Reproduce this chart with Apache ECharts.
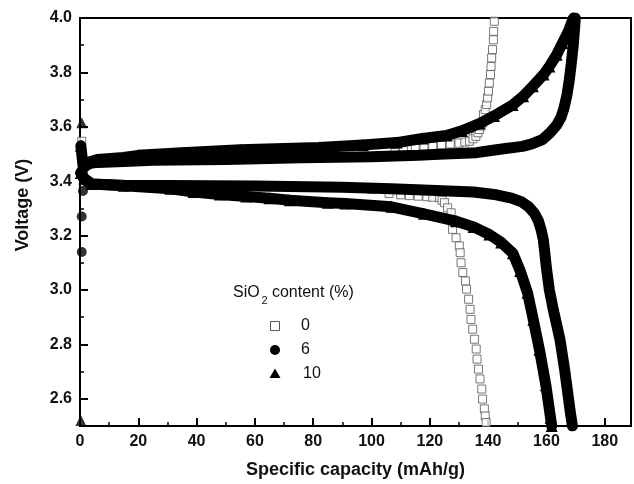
<!DOCTYPE html>
<html>
<head>
<meta charset="utf-8">
<script src="https://cdn.jsdelivr.net/npm/echarts@6/dist/echarts.min.js"></script>
<style>
html, body { margin: 0; padding: 0; background: #fff; }
#chart { width: 634px; height: 484px; }
</style>
</head>
<body>
<div id="chart"></div>
<script>
var FONT = 'Liberation Sans, Arial, Helvetica, sans-serif';

// specific capacity (mAh/g), voltage (V)
// SiO2 0 %  (open squares)
var charge0 = [[1, 3.46], [5, 3.472], [20, 3.478], [40, 3.48], [60, 3.482], [80, 3.486], [100, 3.49],
	[108, 3.505], [111, 3.512], [115, 3.52], [118, 3.524], [121, 3.528], [124, 3.533], [127, 3.537],
	[130, 3.54], [132, 3.544], [133.6, 3.547], [134.8, 3.556], [135.8, 3.565], [136.5, 3.578], [137, 3.59],
	[137.6, 3.603], [138.1, 3.615], [138.4, 3.645], [139, 3.663], [139.5, 3.682], [139.8, 3.706],
	[140.1, 3.731], [140.4, 3.761], [140.8, 3.792], [141, 3.822], [141.2, 3.853], [141.5, 3.884],
	[141.8, 3.92], [141.9, 3.951], [142.1, 3.988]];
var discharge0 = [[1, 3.42], [3, 3.39], [20, 3.385], [50, 3.382], [80, 3.379], [100, 3.37], [106, 3.355],
	[110, 3.35], [113, 3.347], [116, 3.345], [119, 3.343], [121, 3.341], [123.3, 3.339], [124.2, 3.33],
	[125, 3.321], [126.1, 3.302], [127.3, 3.284], [127.5, 3.255], [127.8, 3.223], [129, 3.192],
	[130.1, 3.162], [130.4, 3.137], [130.7, 3.1], [131.3, 3.064], [132.2, 3.033], [132.6, 3.003],
	[133.3, 2.966], [133.8, 2.929], [134.1, 2.892], [134.7, 2.856], [135.3, 2.819], [135.9, 2.783],
	[136.2, 2.746], [136.7, 2.709], [137.2, 2.673], [137.8, 2.636], [138.1, 2.599], [138.7, 2.563],
	[139, 2.537], [139.3, 2.513]];

// SiO2 6 %  (filled circles)
var charge6 = [[0.3, 3.43], [1.5, 3.455], [4, 3.468], [15, 3.472], [25, 3.477], [50, 3.48], [76, 3.486],
	[100, 3.49], [116, 3.495], [125, 3.5], [136, 3.505], [140.4, 3.512], [146, 3.52], [151.8, 3.528],
	[155, 3.537], [158.6, 3.553], [161.2, 3.578], [163.5, 3.606], [165, 3.635], [166, 3.668],
	[167, 3.715], [167.8, 3.77], [168.4, 3.822], [169.2, 3.9], [169.7, 3.97], [169.9, 4.0]];
var discharge6 = [[0.3, 3.43], [1.5, 3.405], [4, 3.39], [15, 3.385], [30, 3.384], [60, 3.382], [90, 3.378],
	[106.8, 3.372], [120, 3.367], [135, 3.36], [142.8, 3.35], [148, 3.338], [151.5, 3.324], [154, 3.305],
	[155.8, 3.283], [157.2, 3.255], [158.2, 3.22], [158.9, 3.186], [159.4, 3.14], [160, 3.08],
	[161, 3.0], [162.2, 2.935], [164.6, 2.82], [166.2, 2.71], [168.2, 2.55], [168.9, 2.5]];

// SiO2 10 %  (filled triangles)
var charge10 = [[0.3, 3.53], [1, 3.46], [3, 3.47], [6, 3.48], [15, 3.487], [20, 3.495], [35, 3.505],
	[55, 3.516], [82, 3.524], [97, 3.533], [108.6, 3.542], [117.5, 3.557], [125.7, 3.568], [131, 3.585],
	[137, 3.612], [142, 3.64], [148.4, 3.68], [152, 3.712], [155.3, 3.749], [159, 3.792], [161, 3.822],
	[163.5, 3.865], [165.5, 3.908], [167.5, 3.95], [169, 3.994], [169.3, 4.0]];
var discharge10 = [[0.3, 3.43], [1.5, 3.41], [4, 3.39], [15, 3.383], [31, 3.372], [39, 3.36], [48, 3.351],
	[57, 3.344], [65, 3.337], [72, 3.33], [85, 3.321], [91, 3.318], [106.8, 3.306], [118, 3.28],
	[129, 3.253], [135, 3.232], [140.4, 3.204], [144.5, 3.175], [148.5, 3.135], [151, 3.07], [153.5, 2.99],
	[155.5, 2.89], [157.6, 2.78], [159.8, 2.65], [161.4, 2.53], [161.8, 2.5]];

// first points of the runs, left on their own at zero capacity
var start0 = [[0.6, 3.547]];
var start6 = [[0.6, 3.27], [0.6, 3.14], [1, 3.364]];
var start10 = [[0.6, 3.615], [0.3, 2.52]];

var xMin = 0, xMax = 189;
var yMin = 2.5, yMax = 4.0;

var mychart = echarts.init(document.getElementById('chart'), null, {renderer: 'canvas'});

function squares(data) {
	return {
		type: 'scatter',
		data: data,
		symbol: 'rect',
		symbolSize: 8,
		itemStyle: {color: '#fff', borderColor: '#555', borderWidth: 1},
		z: 2,
		silent: true
	};
}

function thick(data, symbol, size) {
	return {
		type: 'line',
		data: data,
		showSymbol: !!symbol,
		symbol: symbol || 'none',
		symbolSize: size || 0,
		itemStyle: {color: '#000'},
		lineStyle: {color: '#000', width: 11, cap: 'round', join: 'round'},
		z: 3,
		silent: true
	};
}

function dots(data, symbol, size) {
	return {
		type: 'scatter',
		data: data,
		symbol: symbol,
		symbolSize: size,
		itemStyle: {color: '#000'},
		z: 3,
		silent: true
	};
}

var option = {
	animation: false,
	backgroundColor: '#fff',
	grid: {
		left: 80, right: 2, top: 18, bottom: 58,
		show: true, borderColor: '#000', borderWidth: 2, backgroundColor: 'transparent'
	},
	xAxis: [{
		type: 'value', min: xMin, max: xMax, interval: 10,
		name: 'Specific capacity (mAh/g)', nameLocation: 'middle', nameGap: 35,
		nameTextStyle: {fontFamily: FONT, fontWeight: 'bold', fontSize: 18, color: '#111'},
		axisLine: {lineStyle: {color: '#000', width: 2}},
		axisTick: {inside: true, length: 4, lineStyle: {color: '#000', width: 1.5}},
		axisLabel: {
			margin: 8, fontFamily: FONT, fontWeight: 'bold', fontSize: 16, color: '#111',
			formatter: function(v) { return (v % 20 === 0) ? String(v) : ''; }
		},
		splitLine: {show: false}
	}, {
		type: 'value', min: xMin, max: xMax, interval: 20, position: 'bottom',
		axisLine: {show: false},
		axisTick: {inside: true, length: 8, lineStyle: {color: '#000', width: 2}},
		axisLabel: {show: false},
		splitLine: {show: false}
	}],
	yAxis: [{
		type: 'value', min: yMin, max: yMax, interval: 0.1,
		name: 'Voltage (V)', nameLocation: 'middle', nameGap: 48,
		nameTextStyle: {fontFamily: FONT, fontWeight: 'bold', fontSize: 18, color: '#111', padding: [0, 0, 0, 34]},
		axisLine: {lineStyle: {color: '#000', width: 2}},
		axisTick: {inside: true, length: 4, lineStyle: {color: '#000', width: 1.5}},
		axisLabel: {
			margin: 8, fontFamily: FONT, fontWeight: 'bold', fontSize: 16, color: '#111',
			formatter: function(v) {
				var t = Math.round(v * 10);
				return (t % 2 === 0) ? (t / 10).toFixed(1) : '';
			}
		},
		splitLine: {show: false}
	}, {
		// major ticks every 0.2 V (counted from 2.6)
		type: 'value', min: yMin, max: yMax, splitNumber: 7, position: 'left',
		axisLine: {show: false},
		axisTick: {inside: true, length: 8, lineStyle: {color: '#000', width: 2}},
		axisLabel: {show: false},
		splitLine: {show: false}
	}],
	series: [
		squares(charge0),
		squares(discharge0),
		squares(start0),
		thick(charge6),
		thick(discharge6),
		dots(start6, 'circle', 10),
		thick(charge10, 'triangle', 12),
		thick(discharge10, 'triangle', 12),
		dots(start10, 'triangle', 11)
	],
	graphic: [
		// legend
		{type: 'text', x: 233, y: 293, style: {text: 'SiO', font: '16px ' + FONT, fill: '#111', textVerticalAlign: 'middle'}},
		{type: 'text', x: 261.5, y: 301, style: {text: '2', font: '11px ' + FONT, fill: '#111', textVerticalAlign: 'middle'}},
		{type: 'text', x: 267.5, y: 293, style: {text: ' content (%)', font: '16px ' + FONT, fill: '#111', textVerticalAlign: 'middle'}},
		{type: 'rect', shape: {x: 270.5, y: 321.5, width: 9, height: 9}, style: {fill: '#fff', stroke: '#555', lineWidth: 1}},
		{type: 'circle', shape: {cx: 275, cy: 350, r: 5}, style: {fill: '#000'}},
		{type: 'polygon', shape: {points: [[275, 368.5], [269.5, 378], [280.5, 378]]}, style: {fill: '#000'}},
		{type: 'text', x: 301, y: 326, style: {text: '0', font: '16px ' + FONT, fill: '#111', textVerticalAlign: 'middle'}},
		{type: 'text', x: 301, y: 350, style: {text: '6', font: '16px ' + FONT, fill: '#111', textVerticalAlign: 'middle'}},
		{type: 'text', x: 303, y: 374, style: {text: '10', font: '16px ' + FONT, fill: '#111', textVerticalAlign: 'middle'}}
	]
};

mychart.setOption(option);
</script>
</body>
</html>
